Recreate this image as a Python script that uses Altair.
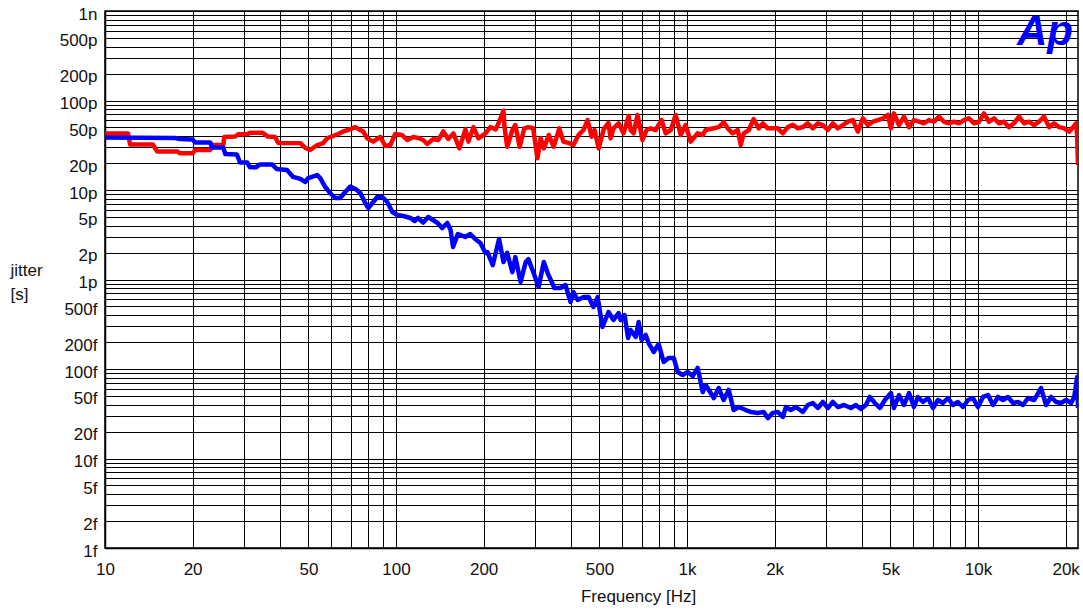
import altair as alt
import pandas as pd

# ---- data (frequency in Hz, jitter in picoseconds) ----
blue_freq = [10, 17.4, 18.1, 20.0, 20.4, 23.0, 23.3, 25.5, 25.9, 28.4, 29.1, 30.8, 31.5, 33.0, 34.1, 37.5,
             38.9, 42.2, 44.3, 46.9, 48.8, 49.9, 53.6, 54.9, 57.1, 59.4, 61.8, 64.3, 66.9, 69.6, 72.4, 75.4,
             78.4, 80.3, 83.5, 86.2, 89.7, 93.3, 97.1, 101, 106, 112, 116, 119, 124, 129, 134, 139, 144, 150,
             154, 157, 163, 173, 180, 187, 195, 203, 206, 215, 226, 234, 241, 251, 257, 268, 279, 285, 297,
             309, 322, 332, 350, 368, 382, 398, 407, 421, 441, 459, 477, 493, 512, 537, 559, 582, 591, 610,
             627, 640, 666, 682, 698, 721, 738, 768, 799, 831, 864, 900, 929, 966, 1005, 1046, 1088, 1132,
             1159, 1236, 1285, 1336, 1391, 1446, 1506, 1591, 1656, 1750, 1835, 1895, 1971, 2051, 2134, 2185,
             2273, 2365, 2500, 2600, 2705, 2815, 2928, 3047, 3170, 3298, 3460, 3656, 3804, 3957, 4117, 4248,
             4420, 4600, 4785, 5019, 5140, 5350, 5565, 5790, 6020, 6215, 6465, 6730, 7000, 7280, 7575, 7880,
             8200, 8530, 8875, 9235, 9605, 9990, 10400, 10820, 11255, 11710, 12180, 12670, 13190, 13720,
             14270, 14850, 15580, 16460, 17130, 17820, 18540, 19290, 20070, 20880, 21400, 21900, 22050]
blue_ps = [38.6, 38.1, 37.1, 36.6, 34.0, 33.9, 29.8, 29.8, 25.2, 24.9, 20.3, 20.3, 17.9, 17.9, 19.3, 19.3,
           17.2, 16.7, 14.0, 13.3, 12.3, 13.6, 14.7, 13.6, 10.8, 9.26, 8.14, 8.14, 9.5, 10.9, 10.3, 9.26,
           7.16, 6.29, 7.34, 8.35, 8.35, 7.34, 5.68, 5.26, 5.12, 4.87, 4.5, 4.87, 4.33, 4.99, 4.62, 4.28,
           3.76, 4.28, 3.57, 2.31, 3.22, 2.99, 3.22, 2.84, 2.56, 1.98, 2.03, 1.45, 2.84, 1.57, 1.98, 1.21,
           1.78, 0.938, 1.57, 1.69, 1.18, 0.825, 1.57, 1.18, 0.804, 0.804, 0.868, 0.561, 0.725, 0.59,
           0.637, 0.637, 0.493, 0.637, 0.295, 0.433, 0.353, 0.422, 0.353, 0.401, 0.222, 0.273, 0.228,
           0.335, 0.211, 0.24, 0.195, 0.155, 0.19, 0.12, 0.133, 0.133, 0.0926, 0.0857, 0.0926, 0.0835,
           0.103, 0.0553, 0.0663, 0.0474, 0.0613, 0.045, 0.0583, 0.0348, 0.0376, 0.0348, 0.0331, 0.0323,
           0.0331, 0.0283, 0.0323, 0.0331, 0.0291, 0.0376, 0.0348, 0.0376, 0.0331, 0.0396, 0.0417, 0.0367,
           0.0428, 0.0367, 0.0428, 0.0376, 0.0396, 0.0367, 0.0396, 0.0357, 0.0396, 0.0487, 0.0417, 0.0367,
           0.045, 0.0539, 0.0367, 0.0512, 0.0396, 0.0539, 0.0376, 0.0487, 0.0428, 0.0474, 0.0367, 0.045,
           0.0417, 0.0474, 0.0396, 0.0428, 0.0376, 0.045, 0.0474, 0.0376, 0.0487, 0.0512, 0.0396, 0.0487,
           0.045, 0.0487, 0.0417, 0.0428, 0.0396, 0.0474, 0.045, 0.0613, 0.0396, 0.0487, 0.0428, 0.0417,
           0.045, 0.0417, 0.0487, 0.0814, 0.0367]

red_freq = [10, 12.0, 12.2, 14.6, 15.1, 17.7, 18.1, 20.0, 20.4, 23.0, 23.5, 25.5, 25.7, 28.0, 28.7, 30.8,
            31.5, 34.8, 36.3, 38.4, 39.4, 46.9, 48.8, 50.7, 53.6, 56.2, 58.2, 60.8, 63.2, 65.9, 68.5, 72.4,
            75.4, 77.1, 79.6, 83.5, 88.3, 91.9, 95.6, 99.4, 104.7, 109.5, 114.6, 119.1, 123.9, 127.9, 134.4,
            139.7, 145.4, 151.2, 157.5, 165.1, 173.2, 177.4, 184.5, 191.9, 203, 211, 220, 225, 234, 236, 241,
            251, 257, 266, 276, 285, 296, 306, 314, 322, 335, 348, 364, 376, 391, 407, 424, 441, 455, 470,
            481, 497, 517, 537, 546, 559, 582, 605, 630, 640, 655, 676, 703, 726, 750, 780, 818, 844, 879,
            914, 951, 989, 1029, 1088, 1132, 1159, 1235, 1285, 1337, 1380, 1435, 1494, 1530, 1566, 1630,
            1695, 1764, 1821, 1894, 1971, 2051, 2134, 2220, 2310, 2404, 2500, 2600, 2705, 2815, 2928, 3047,
            3170, 3298, 3430, 3570, 3715, 3865, 4020, 4185, 4355, 4530, 4710, 4900, 5019, 5140, 5350, 5565,
            5790, 6020, 6265, 6515, 6780, 7055, 7340, 7635, 7945, 8265, 8600, 8945, 9310, 9685, 10075,
            10480, 10905, 11345, 11805, 12280, 12775, 13290, 13830, 14390, 14970, 15580, 16200, 16860,
            17540, 18250, 18985, 19750, 20550, 21210, 21720, 21890, 22050]
red_ps = [42.8, 42.8, 32.2, 32.2, 27.0, 27.0, 25.7, 25.7, 28.0, 28.0, 31.8, 31.8, 39.1, 39.6, 41.9, 41.9,
          43.6, 43.6, 39.5, 39.1, 33.6, 33.4, 29.5, 28.0, 31.8, 33.5, 38.1, 40.1, 42.2, 45.1, 46.8, 50.4,
          46.8, 45.1, 37.8, 34.7, 39.3, 31.0, 31.8, 42.2, 41.2, 36.2, 39.1, 38.1, 36.2, 32.7, 37.1, 36.2,
          45.1, 37.1, 42.8, 29.2, 47.6, 34.7, 50.4, 37.8, 43.0, 50.4, 47.6, 55.6, 76.9, 50.4, 30.4, 46.8,
          53.2, 30.4, 48.9, 50.4, 48.9, 22.6, 37.8, 29.2, 41.2, 30.4, 48.9, 34.7, 33.6, 31.8, 41.2, 46.8,
          60.5, 39.4, 46.8, 29.2, 47.6, 56.4, 37.8, 48.9, 55.6, 43.0, 67.1, 46.8, 43.0, 68.9, 36.2, 46.8,
          48.9, 46.8, 60.5, 43.0, 46.8, 68.9, 41.2, 53.2, 34.7, 43.0, 41.2, 46.8, 48.9, 50.4, 57.0, 48.9,
          43.0, 46.8, 31.8, 43.0, 46.8, 62.1, 48.9, 55.6, 48.9, 48.9, 48.9, 43.0, 50.4, 53.6, 48.9, 50.4,
          55.6, 48.9, 55.6, 53.2, 46.8, 55.6, 48.9, 53.2, 57.9, 60.5, 44.8, 63.2, 53.2, 57.9, 60.5, 63.2,
          68.9, 48.9, 71.8, 53.2, 66.0, 50.4, 60.5, 57.9, 55.6, 60.5, 57.9, 66.0, 57.9, 55.6, 57.9, 55.6,
          60.5, 63.2, 55.6, 57.9, 71.8, 57.9, 63.2, 55.6, 57.9, 50.4, 55.6, 66.0, 55.6, 57.9, 53.2, 57.9,
          66.0, 50.4, 55.6, 50.4, 48.9, 44.8, 50.4, 55.6, 41.2, 19.0]

logo_text = ["Ap"]

# ---- tick / grid positions ----
x_grid = [m * 10 ** e for e in range(1, 5) for m in range(1, 10) if m * 10 ** e <= 22050]
y_grid = [float(f"{m}e{e}") for e in range(-15, -9) for m in range(1, 10)] + [1e-9]

FONT = "Liberation Sans"
TXT = "#111111"
show_125 = "indexof(['1','2','5'], substring(datum.label, 0, 1)) >= 0 ? datum.label : ''"

blue_df = pd.DataFrame({"f": blue_freq, "ps": blue_ps})
red_df = pd.DataFrame({"f": red_freq, "ps": red_ps})

x_enc = alt.X(
    "f:Q",
    scale=alt.Scale(type="log", domain=[10, 22050], nice=False),
    axis=alt.Axis(
        values=x_grid, format="~s", labelExpr=show_125, title="Frequency [Hz]",
        grid=True, gridColor="#000000", gridWidth=1, gridOpacity=1,
        ticks=False, tickSize=0, labelPadding=13, labelFont=FONT, labelFontSize=17,
        labelColor=TXT, labelFlush=False, labelOverlap=False,
        titleFont=FONT, titleFontSize=17, titleFontWeight="normal", titleColor=TXT,
        titleX=533, titleY=48, titleAlign="center", titleBaseline="middle",
        domainColor="#000000", domainWidth=1.5,
    ),
)
y_enc = alt.Y(
    "s:Q",
    scale=alt.Scale(type="log", domain=[1e-15, 1e-9], nice=False),
    axis=alt.Axis(
        values=y_grid, format="~s", labelExpr=show_125, title=["jitter", "[s]"],
        grid=True, gridColor="#000000", gridWidth=1, gridOpacity=1,
        ticks=False, tickSize=0, labelPadding=8, labelOffset=3, labelFont=FONT, labelFontSize=17,
        labelColor=TXT, labelFlush=False, labelOverlap=False,
        titleFont=FONT, titleFontSize=17, titleFontWeight="normal", titleColor=TXT,
        titleAngle=0, titleX=-95, titleY=259, titleAlign="left", titleBaseline="middle",
        titleLineHeight=24, domainColor="#000000", domainWidth=1.5,
    ),
)

red = (
    alt.Chart(red_df)
    .transform_calculate(s="datum.ps * 1e-12")
    .mark_line(color="#ff0000", strokeWidth=4.5, strokeJoin="round", clip=True)
    .encode(x=x_enc, y=y_enc, order="f:Q")
)
blue = (
    alt.Chart(blue_df)
    .transform_calculate(s="datum.ps * 1e-12")
    .mark_line(color="#0000ff", strokeWidth=4.5, strokeJoin="round", clip=True)
    .encode(x=x_enc, y=y_enc, order="f:Q")
)
logo = (
    alt.Chart(pd.DataFrame({"t": logo_text}))
    .mark_text(font=FONT, fontSize=42, fontWeight="bold", fontStyle="italic",
               color="#0000ff", align="right", baseline="alphabetic")
    .encode(x=alt.value(968), y=alt.value(34), text="t:N")
)

chart = (
    alt.layer(red, blue, logo)
    .properties(
        width=973, height=537,
        padding={"left": 105, "top": 11, "right": 5, "bottom": 65},
        autosize=alt.AutoSizeParams(type="none"),
        background="#ffffff",
    )
    .configure_view(stroke="#000000", strokeWidth=1.5)
)

chart.save("out.html", embed_options={"renderer": "svg", "actions": False})
